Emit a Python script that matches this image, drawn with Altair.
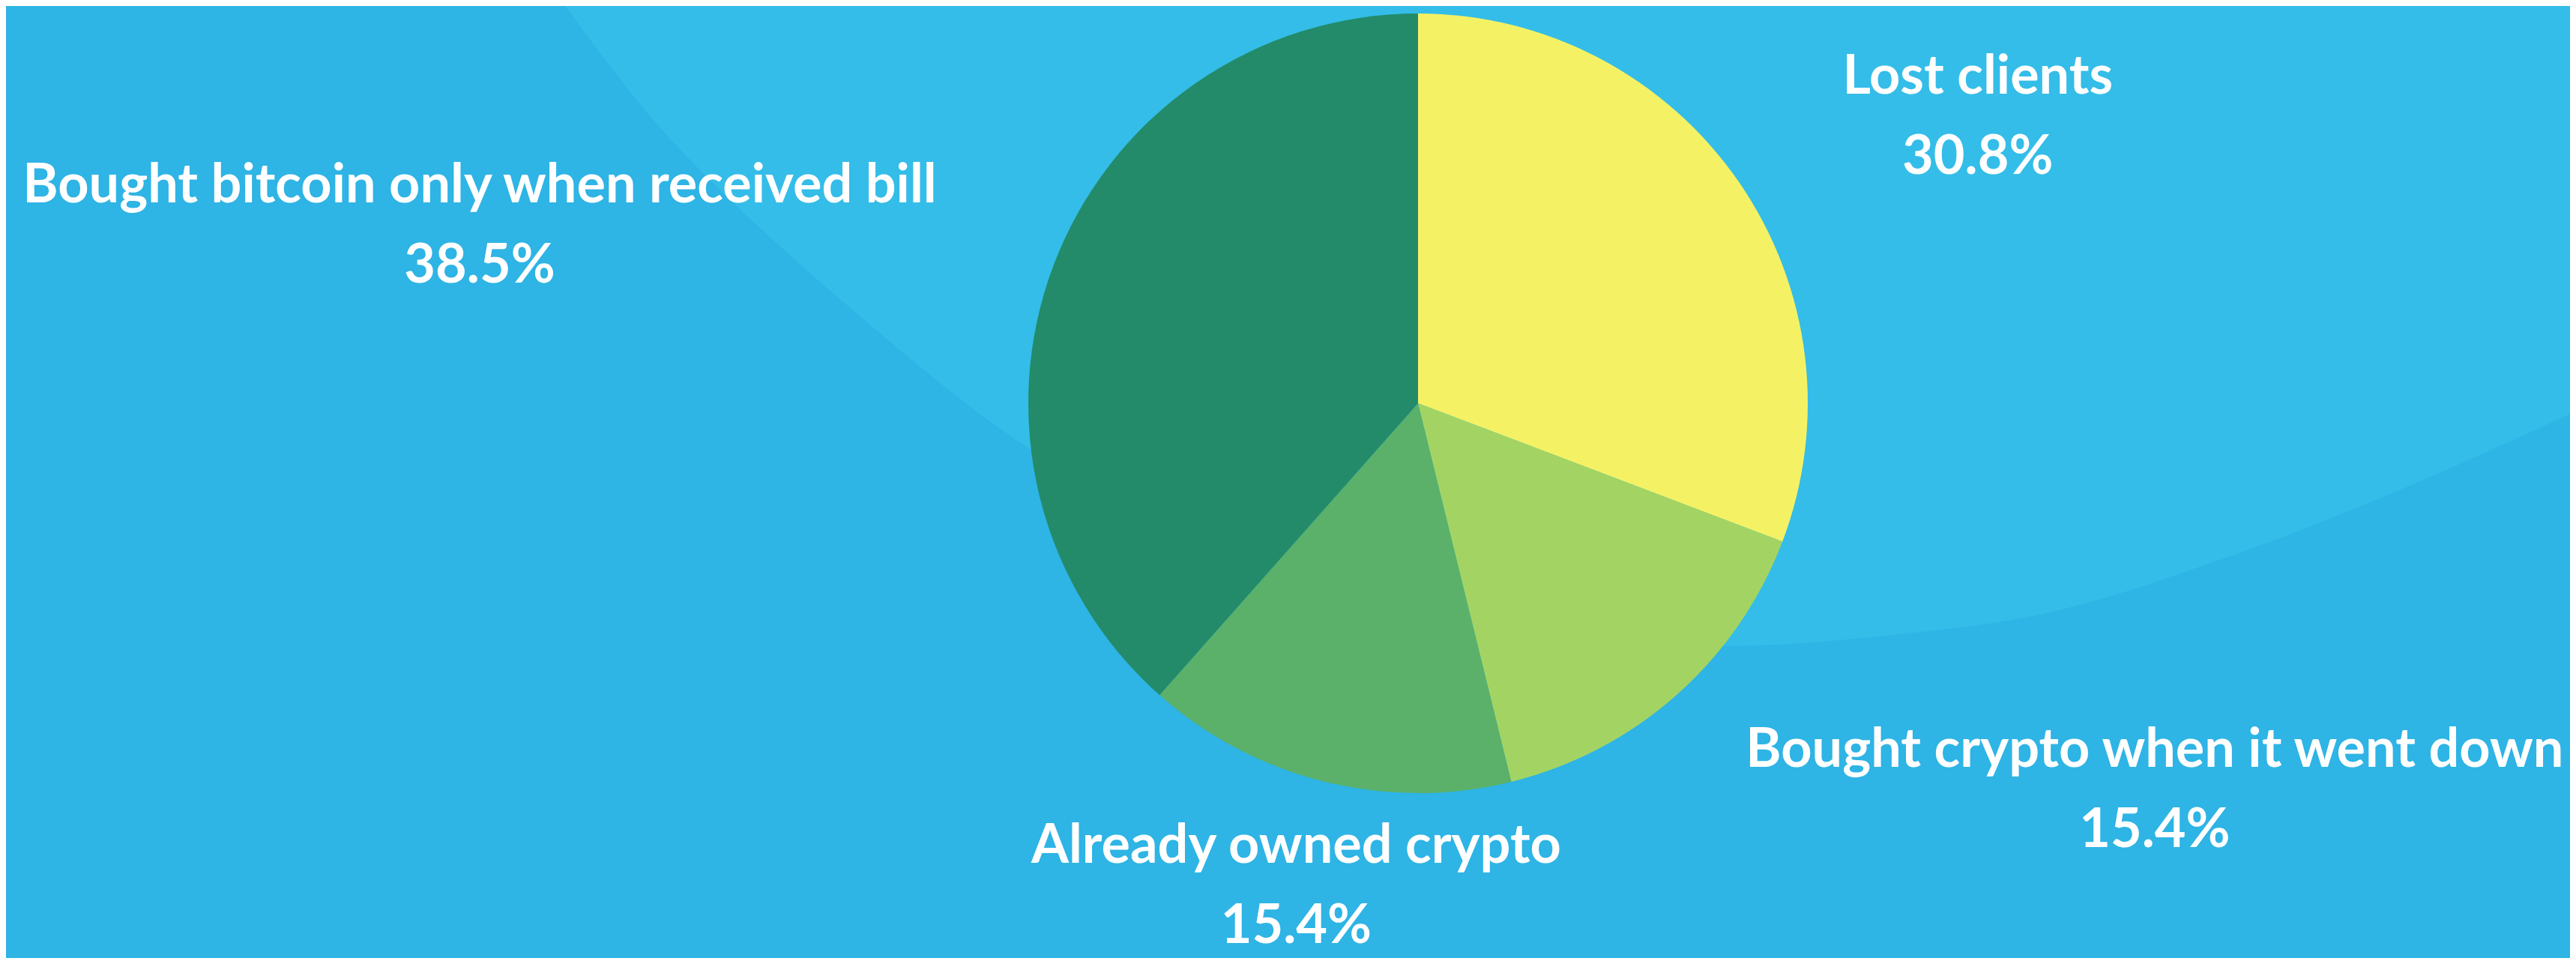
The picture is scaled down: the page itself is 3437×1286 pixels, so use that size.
import altair as alt
import pandas as pd

# ---- data ----
categories = [
    "Lost clients",
    "Bought crypto when it went down",
    "Already owned crypto",
    "Bought bitcoin only when received bill",
]
counts = [4, 2, 2, 5]
colors = ["#F4F264", "#A3D463", "#5BB16A", "#238B6A"]

# decorative lighter background band (boundary of the lighter region, page px)
bg_x = [745, 800, 870, 957, 1040, 1110, 1190, 1263, 1340, 1420, 1550, 1700,
        1850, 2000, 2150, 2300, 2517, 2735, 2953, 3170, 3445]
bg_y = [-5, 70, 158, 250, 328, 390, 458, 518, 576, 628, 700, 765,
        815, 845, 860, 862, 848, 817, 750, 667, 545]

W, H = 3421, 1270
CX, CY = 1892 - 8, 538 - 8
R = 520
LABEL_R = 600

pie_df = pd.DataFrame({"category": categories, "count": counts,
                       "order": list(range(len(categories)))})
bg_df = pd.DataFrame({"x": bg_x, "y": bg_y})
total = sum(counts)
theta_scale = alt.Scale(domain=[0, total])

background = alt.Chart(bg_df).mark_area(
    color="#34BDE8", interpolate="monotone", clip=True
).encode(
    x=alt.X("x:Q", scale=alt.Scale(domain=[8, 3429], nice=False, zero=False), axis=None),
    y=alt.Y("y:Q", scale=alt.Scale(domain=[8, 1278], reverse=True, nice=False, zero=False), axis=None),
    y2=alt.value(0),
)

base = alt.Chart(pie_df).transform_joinaggregate(total="sum(count)")

arc = base.mark_arc(outerRadius=R).encode(
    theta=alt.Theta("count:Q", stack=True, scale=theta_scale),
    order=alt.Order("order:Q"),
    color=alt.Color("category:N", scale=alt.Scale(domain=categories, range=colors), legend=None),
    x=alt.value(CX),
    y=alt.value(CY),
)

label_base = base.transform_window(
    cum="sum(count)", sort=[alt.SortField("order")], frame=[None, 0]
).transform_calculate(
    mid="datum.cum - datum.count / 2",
    label="[datum.category, format(datum.count / datum.total, '.1%')]",
)

offsets = [(253, -72), (585, 36), (-19, 30), (-691, -55)]

layers = [background, arc]
for cat, (dx, dy) in zip(categories, offsets):
    t = label_base.transform_filter(alt.datum.category == cat).mark_text(
        radius=LABEL_R, dx=dx, dy=dy, align="center", baseline="alphabetic",
        lineHeight=107, font="Lato", fontSize=72, fontWeight="bold", color="white",
    ).encode(
        theta=alt.Theta("mid:Q", stack=False, scale=theta_scale),
        text="label:N",
        x=alt.value(CX),
        y=alt.value(CY),
    )
    layers.append(t)

chart = alt.layer(*layers).properties(
    width=W, height=H, padding=0, autosize=alt.AutoSizeParams(type="none"),
    background="#2EB4E5",
).configure_view(stroke=None)

chart.save("out.html", embed_options={"renderer": "svg", "actions": False})
